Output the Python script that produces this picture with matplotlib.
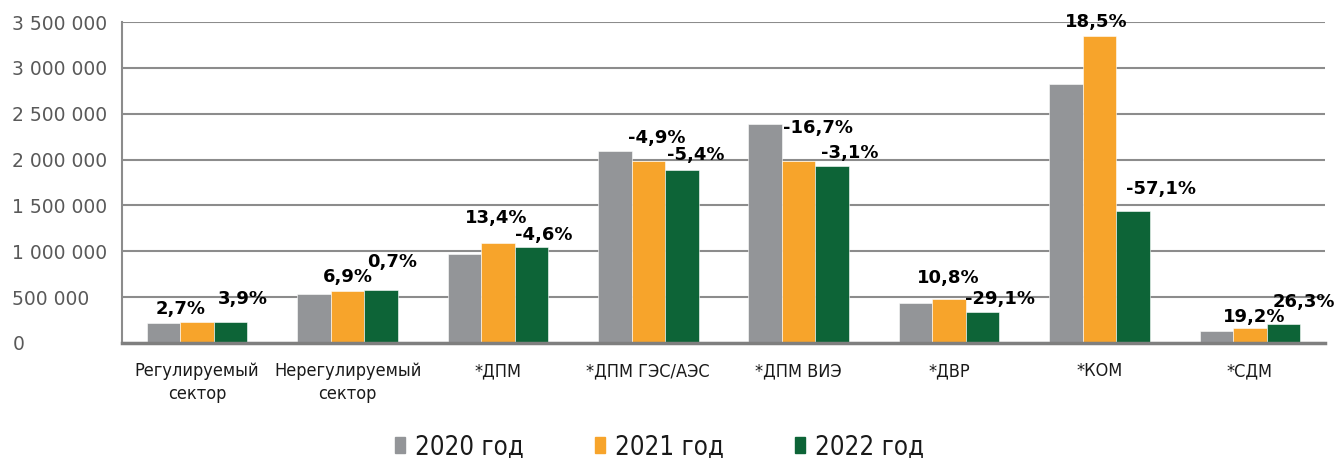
import numpy as np
import matplotlib
matplotlib.use("Agg")
import matplotlib.pyplot as plt
import matplotlib.patches as mpatches
from matplotlib import font_manager

# %%
categories = [
    "Регулируемый\nсектор",
    "Нерегулируемый\nсектор",
    "*ДПМ",
    "*ДПМ ГЭС/АЭС",
    "*ДПМ ВИЭ",
    "*ДВР",
    "*КОМ",
    "*СДМ",
]
years = ["2020 год", "2021 год", "2022 год"]

values_2020 = [218000, 535000, 965000, 2090000, 2385000, 437000, 2826000, 136000]
values_2021 = [224000, 572000, 1094000, 1988000, 1987000, 484000, 3349000, 162000]
values_2022 = [233000, 576000, 1044000, 1881000, 1925000, 343000, 1437000, 205000]

pct_2021 = [2.7, 6.9, 13.4, -4.9, -16.7, 10.8, 18.5, 19.2]
pct_2022 = [3.9, 0.7, -4.6, -5.4, -3.1, -29.1, -57.1, 26.3]

yticks = [0, 500000, 1000000, 1500000, 2000000, 2500000, 3000000, 3500000]

# label offsets (pixels) from the top of each bar
off_2021 = [(-17, 13), (0, 14), (-2, 25), (8, 23), (19, 33), (-1, 21), (-3, 14), (4, 11)]
off_2022 = [(12, 23), (11, 28), (12, 12), (14, 15), (18, 13), (17, 13), (28, 22), (21, 22)]

colors = ["#939598", "#F7A42B", "#0D6437"]

# use condensed DejaVu if it is installed
has_condensed = any(
    f.name == "DejaVu Sans" and f.stretch == "condensed"
    for f in font_manager.fontManager.ttflist
)
stretch = "condensed" if has_condensed else "normal"
cat_size = 13 if has_condensed else 11.5
leg_size = 18.5 if has_condensed else 16.5

plt.rcParams["font.family"] = "DejaVu Sans"


def fmt_num(v):
    return f"{int(v):,}".replace(",", " ")


def fmt_pct(p):
    return f"{p:.1f}".replace(".", ",") + "%"


# %%
W, H = 1337, 458
fig = plt.figure(figsize=(W / 100, H / 100), dpi=100)
ax = fig.add_axes([122 / W, 1 - 343 / H, (1325 - 122) / W, (343 - 22) / H])

x = np.arange(len(categories))
width = 0.223

series = [values_2020, values_2021, values_2022]
handles = []
for i, (vals, c, lab) in enumerate(zip(series, colors, years)):
    ax.bar(x + (i - 1) * width, vals, width, color=c, edgecolor="white", linewidth=0.4, zorder=2)
    handles.append(mpatches.Patch(color=c, label=lab))

# percentage labels
for xi, v, p, (dx, dy) in zip(x, values_2021, pct_2021, off_2021):
    ax.annotate(fmt_pct(p), xy=(xi, v), xytext=(dx, dy), textcoords="offset pixels",
                ha="center", va="center", fontsize=13, fontweight="bold", color="black", zorder=3)
for xi, v, p, (dx, dy) in zip(x, values_2022, pct_2022, off_2022):
    ax.annotate(fmt_pct(p), xy=(xi + width, v), xytext=(dx, dy), textcoords="offset pixels",
                ha="center", va="center", fontsize=13, fontweight="bold", color="black", zorder=3)

ax.set_xlim(-0.5, len(categories) - 0.5)
ax.set_ylim(0, 3500000)
ax.set_yticks(yticks)
ax.set_yticklabels([fmt_num(t) for t in yticks], ha="left", color="#595959", fontsize=13.5)
ax.tick_params(axis="y", length=0, pad=79)

ax.set_xticks(x)
ax.set_xticklabels(categories, fontsize=cat_size, fontstretch=stretch, color="#1a1a1a", linespacing=1.3)
ax.tick_params(axis="x", length=0, pad=14)

ax.yaxis.grid(True, color="#8c8c8c", linewidth=1.5)
ax.set_axisbelow(True)
for s in ["top", "right"]:
    ax.spines[s].set_visible(False)
ax.spines["left"].set_color("#8c8c8c")
ax.spines["left"].set_linewidth(1.5)
ax.spines["bottom"].set_color("#7f7f7f")
ax.spines["bottom"].set_linewidth(2.5)

leg = fig.legend(handles=handles, loc="center left", bbox_to_anchor=(395 / W, 1 - 447 / H),
                 ncol=3, frameon=False, handlelength=0.39, handleheight=0.55, handletextpad=0.4,
                 columnspacing=2.75, borderpad=0, borderaxespad=0,
                 prop={"size": leg_size, "stretch": stretch, "family": "DejaVu Sans"})
for t in leg.get_texts():
    t.set_color("#1a1a1a")

fig.savefig("out.png", dpi=100)
